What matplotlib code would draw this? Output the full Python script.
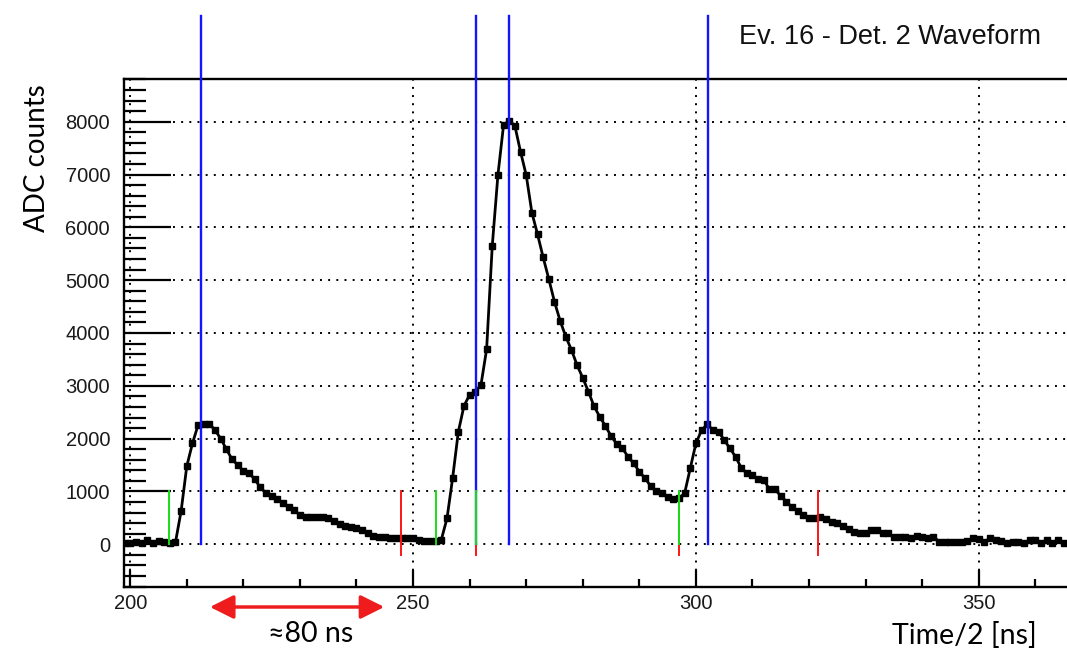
import matplotlib
matplotlib.use("Agg")
import matplotlib.pyplot as plt
from matplotlib.ticker import MultipleLocator
from matplotlib.patches import FancyArrowPatch

# ---------------- data ----------------
time_bins = list(range(199, 366))
adc_counts = [
    30, 20, 40, 30, 80, 30, 70, 40, 30, 40,            # 199-208
    630, 1480, 1910, 2260, 2280, 2280, 2160, 2000, 1800, 1610,  # 209-218
    1500, 1390, 1350, 1230, 1080, 965, 915, 850, 775, 700,      # 219-228
    650, 555, 510, 510, 510, 510, 490, 447, 384, 346,           # 229-238
    320, 300, 270, 220, 158, 145, 130, 115, 115, 115,           # 239-248
    125, 115, 85, 70, 60, 60, 90,                               # 249-255
    490, 1260, 2130, 2620, 2830, 2890, 3015, 3690, 5650, 6990,  # 256-265
    7940, 8020, 7920, 7430, 6990, 6280, 5870, 5430, 5020, 4590, # 266-275
    4230, 3930, 3680, 3390, 3150, 2890, 2610, 2416, 2240, 2050, # 276-285
    1900, 1817, 1660, 1533, 1375, 1250, 1104, 1009, 965, 890,   # 286-295
    852, 870, 965, 1440, 1910, 2160, 2270, 2163, 2132, 1974,    # 296-305
    1817, 1660, 1450, 1344, 1312, 1230, 1218, 1041, 1041, 914,  # 306-315
    807, 700, 630, 555, 492, 492, 523, 473, 428, 397,           # 316-325
    346, 284, 239, 208, 220, 271, 271, 220, 208, 145,           # 326-335
    145, 132, 113, 158, 132, 113, 145, 50, 50, 50,              # 336-345
    50, 50, 70, 113, 95, 50, 113, 80, 70, 20,                   # 346-355
    50, 50, 20, 80, 80, 30, 80, 30, 80, 30,                     # 356-365
]

peak_times = [212.6, 261.2, 267.0, 302.2]      # blue
start_times = [206.8, 254.1, 261.2, 297.0]     # green
end_times = [247.9, 261.2, 297.0, 321.5]       # red

title_text = "Ev. 16 - Det. 2 Waveform"
y_label = "ADC counts"
x_label = "Time/2 [ns]"
span_label = "\u224880 ns"
span_range = [213.6, 245.4]

# ---------------- figure ----------------
W, H = 1067, 656
fig = plt.figure(figsize=(W / 100, H / 100), dpi=100)
fig.patch.set_facecolor("white")

ax_l, ax_r, ax_t, ax_b = 124, 1067, 79, 587
ax = fig.add_axes([ax_l / W, (H - ax_b) / H, (ax_r - ax_l) / W, (ax_b - ax_t) / H])
ax.set_xlim(198.9, 365.6)
ax.set_ylim(-808, 8808)

# waveform
ax.plot(time_bins, adc_counts, color="black", lw=2.0, marker="s", ms=4.6,
        mec="black", mfc="black", zorder=3)

# vertical markers
for t in peak_times:
    ax.plot([t, t], [0, 10000], color="#1414ff", lw=1.7, clip_on=False, zorder=4)
for t in end_times:
    ax.plot([t, t], [-200, 1000], color="#ff1414", lw=1.4, zorder=5)
for t in start_times:
    ax.plot([t, t], [0, 1000], color="#14e014", lw=1.4, zorder=6)

# grid
ax.grid(True, which="major", color="black", linestyle=(0, (1, 3.2)), lw=1.4)
ax.set_axisbelow(True)

# spines
for s in ["left", "bottom", "top"]:
    ax.spines[s].set_linewidth(1.7)
ax.spines["right"].set_visible(False)

# ticks
ax.xaxis.set_major_locator(MultipleLocator(50))
ax.xaxis.set_minor_locator(MultipleLocator(10))
ax.yaxis.set_major_locator(MultipleLocator(1000))
ax.yaxis.set_minor_locator(MultipleLocator(200))
ax.tick_params(axis="x", which="major", direction="in", length=12, width=1.6,
               labelsize=14.5, pad=5, top=False)
ax.tick_params(axis="x", which="minor", direction="in", length=6, width=1.6, top=False)
ax.tick_params(axis="y", which="major", direction="in", length=34, width=1.6,
               labelsize=14.5, pad=10, right=False)
ax.tick_params(axis="y", which="minor", direction="in", length=16, width=1.6, right=False)
for lab in ax.get_xticklabels() + ax.get_yticklabels():
    lab.set_fontfamily(["Liberation Sans", "DejaVu Sans"])
    lab.set_color("#1a1a1a")

# title
fig.text(739 / W, 1 - 37 / H, title_text, family=["Liberation Sans", "DejaVu Sans"],
         fontsize=19.5, color="#111111", ha="left", va="center")

# axis labels (Calibri-like annotation text)
fig.text(37 / W, 1 - 158 / H, y_label, family=["Lato", "DejaVu Sans"], fontsize=20,
         rotation=90, ha="center", va="center", color="black")
fig.text(1037 / W, 1 - 636 / H, x_label, family=["Lato", "DejaVu Sans"], fontsize=20.5,
         ha="right", va="center", color="black")
fig.text(311 / W, 1 - 634 / H, span_label, family=["Lato", "DejaVu Sans"], fontsize=20.5,
         ha="center", va="center", color="black")

# red double arrow below the axis
arrow_y = 1 - 607 / H
x0 = ax.transData.transform((span_range[0], 0))[0]
x1 = ax.transData.transform((span_range[1], 0))[0]
fig.patches.append(FancyArrowPatch(
    (x0 / W, arrow_y), (x1 / W, arrow_y), transform=fig.transFigure,
    arrowstyle="<|-|>,head_length=9,head_width=4.5", color="#ee1c1c", lw=2.5,
    mutation_scale=1.6))

fig.savefig("out.png", dpi=100, facecolor="white")
